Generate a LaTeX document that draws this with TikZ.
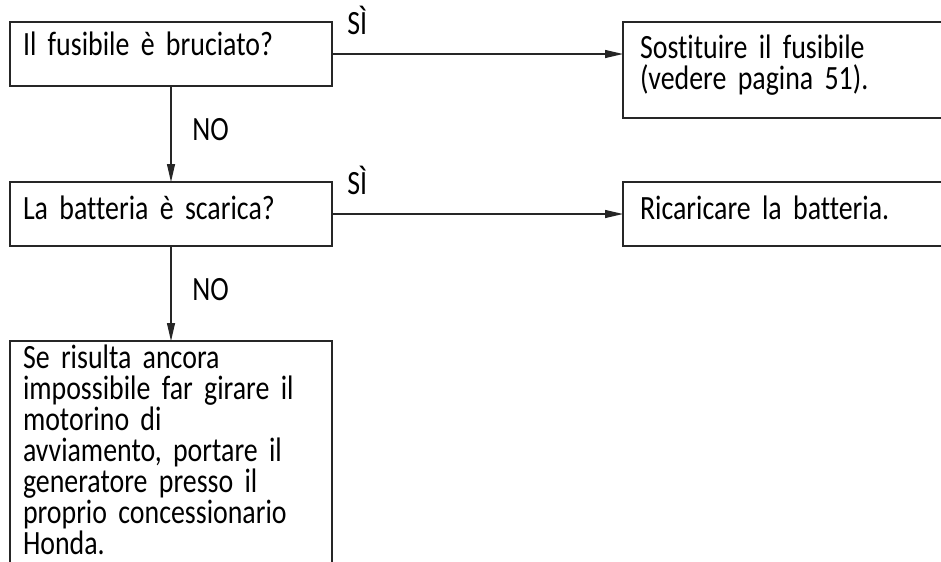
\documentclass[tikz,border=0pt]{standalone}
\usepackage{fontspec}
\setmainfont[FakeStretch=0.82, WordSpace=0.9, Ligatures=NoCommon]{Carlito}
\usetikzlibrary{positioning, arrows.meta}

\begin{document}
\begin{tikzpicture}[
    font=\fontsize{25.5pt}{23.25pt}\selectfont,
    box/.style={draw=black!85, rectangle, line width=0.9pt, align=left, inner ysep=0pt, outer sep=0pt},
    leftbox/.style={box, text width=222pt, inner xsep=9.75pt},
    rightbox/.style={box, text width=240pt, inner xsep=12.75pt},
    lbl/.style={inner sep=0pt},
    arr/.style={draw=black!85, line width=0.9pt, -{Triangle[length=13.5pt, width=6pt]}}
  ]
    \useasboundingbox (-7.5pt,16.5pt) rectangle (698.25pt,-404.25pt);

    % Questions
    \node[leftbox, anchor=north west, text height=24.75pt, text depth=23.25pt] (fuse) at (0,0) {Il fusibile è bruciato?};
    \node[leftbox, below=72pt of fuse, text height=27.75pt, text depth=20.25pt] (battery) {La batteria è scarica?};

    % Actions
    \node[rightbox, right=218.25pt of fuse.north east, anchor=north west, text height=27pt, text depth=45pt] (replace) {Sostituire il fusibile\\(vedere pagina 51).};
    \node[rightbox, right=218.25pt of battery, text height=27.75pt, text depth=20.25pt] (charge) {Ricaricare la batteria.};
    \node[leftbox, below=71.25pt of battery, text height=20.25pt, text depth=250pt] (dealer) {Se risulta ancora\\impossibile far girare il\\motorino di\\avviamento, portare il\\generatore presso il\\proprio concessionario\\Honda.};

    % Arrows
    \draw[arr] (fuse.east) -- (fuse.east -| replace.west);
    \draw[arr] (fuse.south) -- (battery.north);
    \draw[arr] (battery.east) -- (charge.west);
    \draw[arr] (battery.south) -- (dealer.north);

    % Labels
    \node[lbl, above right=14.25pt and 11.25pt of fuse.east] (yes1) {SÌ};
    \node[lbl, above right=14.25pt and 11.25pt of battery.east] (yes2) {SÌ};
    \node[lbl, below right=40.5pt and 15.75pt of fuse.south, anchor=base west] (no1) {NO};
    \node[lbl, below right=40.5pt and 15.75pt of battery.south, anchor=base west] (no2) {NO};
\end{tikzpicture}
\end{document}
